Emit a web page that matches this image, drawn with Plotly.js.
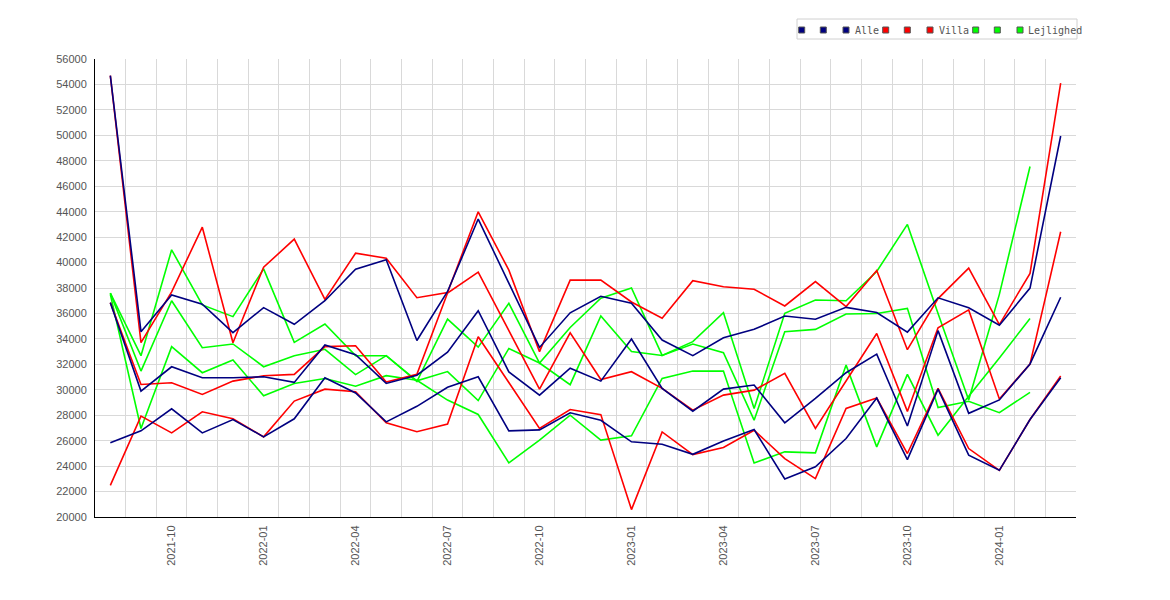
<!DOCTYPE html>
<html>
<head>
<meta charset="utf-8">
<script src="https://cdn.plot.ly/plotly-3.0.1.min.js"></script>
<style>html,body{margin:0;padding:0;background:#fff}#chart{width:1170px;height:600px}</style>
</head>
<body>
<div id="chart"></div>
<script>
const months = ["2021-08","2021-09","2021-10","2021-11","2021-12","2022-01","2022-02","2022-03","2022-04","2022-05","2022-06","2022-07","2022-08","2022-09","2022-10","2022-11","2022-12","2023-01","2023-02","2023-03","2023-04","2023-05","2023-06","2023-07","2023-08","2023-09","2023-10","2023-11","2023-12","2024-01","2024-02","2024-03"];
const tickMonths = ["2021-10","2022-01","2022-04","2022-07","2022-10","2023-01","2023-04","2023-07","2023-10","2024-01"];

const alleHigh = [54700,34570,37450,36720,34490,36460,35150,37000,39480,40230,33870,37730,43420,38400,33330,36050,37350,36800,33910,32680,34090,34750,35800,35540,36480,36070,34530,37230,36440,35080,37990,49950];
const alleMid  = [36850,29900,31810,30950,30950,31020,30580,33520,32750,30500,31150,32960,36220,31400,29580,31700,30680,33990,30110,28320,30050,30370,27400,29320,31340,32800,27150,34650,28150,29200,32030,37270];
const alleLow  = [25830,26770,28500,26610,27660,26300,27720,30950,29750,27480,28700,30200,31020,26770,26850,28190,27600,25910,25720,24930,25980,26880,22990,23950,26170,29350,24510,30050,24860,23670,27660,30950];

const villaHigh = [54700,33700,37700,42780,33700,39630,41840,37110,40735,40340,37240,37640,43990,39400,33000,38620,38620,36900,35620,38580,38100,37900,36590,38500,36540,39370,33150,37170,39560,35120,39150,54100];
const villaMid  = [36850,30420,30550,29630,30680,31100,31210,33390,33460,30600,31210,37600,39250,34700,30060,34470,30810,31420,30110,28400,29580,29970,31290,26960,30700,34420,28300,34870,36280,29280,32020,42420];
const villaLow  = [22490,27930,26610,28270,27720,26300,29110,30050,29850,27400,26700,27300,34170,30600,26970,28450,28050,20580,26690,24910,25460,26820,24590,23020,28530,29350,24990,30110,25380,23670,27660,31080];

const lejlHigh = [37600,32680,41000,36670,35750,39500,33730,35170,32680,32680,30650,35550,33350,36800,32100,34900,37200,38000,32700,33780,36060,28530,36010,37060,37000,39300,43000,36000,29200,37500,47550,null];
const lejlMid  = [37600,31470,37000,33310,33600,31810,32680,33180,31190,32680,30700,31430,29150,33250,32100,30400,35800,33000,32700,33600,32910,27610,34570,34750,35960,36000,36400,28600,29100,28200,29800,null];
const lejlLow  = [37500,26960,33390,31340,32340,29530,30500,30890,30280,31110,30750,29190,28060,24250,26040,28000,26040,26380,30890,31470,31470,24250,25120,25040,31940,25510,31210,26430,29500,32500,35600,null];

const groupNames = ["Alle","Villa","Lejlighed"];
const groupColors = ["#000080","#ff0000","#00ff00"];
const groupSeries = [[alleHigh,alleMid,alleLow],[villaHigh,villaMid,villaLow],[lejlHigh,lejlMid,lejlLow]];

const xIdx = months.map((m,i)=>i);
const tickIdx = tickMonths.map(t=>months.indexOf(t));

// ---- layout geometry (pixels) ----
const W = 1170, H = 600, ML = 95, MR = 94, MT = 59, MB = 83;
const PW = W - ML - MR, PH = H - MT - MB;
const px2x = p => (p - ML) / PW;
const px2y = p => 1 + (MT - p) / PH;
// legend slot positions: square centres and text starts for each group
const sqCentres = [[801.7,823.3,846],[885.7,907.3,930],[975.7,997.3,1020]];
const textStarts = [855,939,1028];
const legendTop = 15.5;

const traces = [];
const legends = {};
let li = 0;
const legId = () => { li++; return li === 1 ? 'legend' : 'legend' + li; };
const legBase = {
  orientation:'h', xanchor:'left', yanchor:'top', y:px2y(legendTop),
  font:{family:'"DejaVu Sans Mono", monospace', size:10, color:'#555'},
  borderwidth:0, bgcolor:'rgba(0,0,0,0)', itemwidth:30
};
groupNames.forEach((g,gi)=>{
  for(let j=0;j<3;j++){
    const id = legId();
    legends[id] = Object.assign({}, legBase, {x:px2x(sqCentres[gi][j]-20)});
    traces.push({
      x:[null], y:[null], type:'scatter', mode:'markers', name:'', legend:id,
      marker:{symbol:'square', size:6, color:groupColors[gi], line:{color:'#555', width:1}},
      hoverinfo:'skip', showlegend:true
    });
  }
  const id = legId();
  legends[id] = Object.assign({}, legBase, {x:px2x(textStarts[gi]-40)});
  traces.push({
    x:[null], y:[null], type:'scatter', mode:'markers', name:g, legend:id,
    marker:{symbol:'square', size:6, color:'rgba(0,0,0,0)', line:{width:0}},
    hoverinfo:'skip', showlegend:true
  });
});

// data lines (Lejlighed drawn first, Alle on top)
[2,1,0].forEach(gi=>{
  groupSeries[gi].forEach(s=>{
    traces.push({
      x:xIdx, y:s, type:'scatter', mode:'lines', name:groupNames[gi],
      line:{color:groupColors[gi], width:1.6},
      showlegend:false, connectgaps:false, hoverinfo:'x+y'
    });
  });
});

const tickFont = {family:'"Liberation Sans", Arial, sans-serif', size:11, color:'#555'};
const layout = Object.assign({
  width:W, height:H,
  margin:{l:ML, r:MR, t:MT, b:MB, pad:0},
  paper_bgcolor:'#fff', plot_bgcolor:'#fff',
  showlegend:true,
  shapes:[{type:'rect', xref:'paper', yref:'paper', x0:px2x(797), x1:px2x(1077), y0:px2y(39), y1:px2y(19),
           line:{color:'#d0d0d0', width:1}, fillcolor:'rgba(0,0,0,0)', layer:'below'}],
  xaxis:{
    range:[-0.5,31.5], tickvals:tickIdx, ticktext:tickMonths, tickangle:-90,
    showgrid:false, zeroline:false, showline:true, linecolor:'#000', linewidth:1,
    ticks:'', tickfont:tickFont, ticklabelstandoff:3,
    minor:{tick0:-0.5, dtick:1, showgrid:true, gridcolor:'#d9d9d9', gridwidth:1, ticks:''}
  },
  yaxis:{
    range:[20000,56000], tick0:20000, dtick:2000, tickformat:'d',
    showgrid:true, gridcolor:'#d9d9d9', gridwidth:1, zeroline:false,
    showline:true, linecolor:'#000', linewidth:1, ticks:'', tickfont:tickFont,
    ticklabelstandoff:5
  }
}, legends);
Plotly.newPlot('chart', traces, layout, {displayModeBar:false, staticPlot:true});
</script>
</body>
</html>
